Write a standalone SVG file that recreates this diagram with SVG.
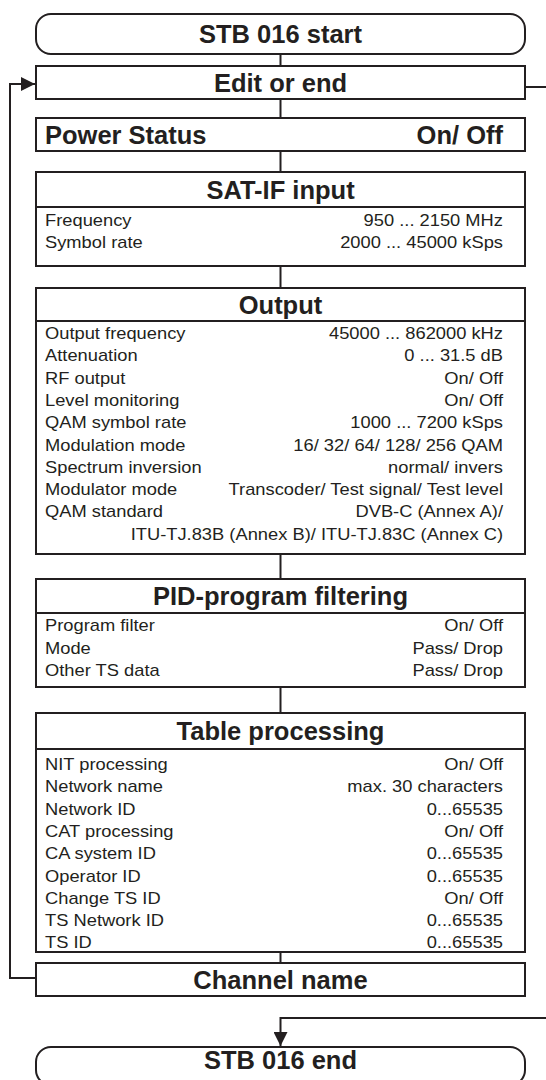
<svg xmlns="http://www.w3.org/2000/svg" width="546" height="1080" viewBox="0 0 546 1080">
<defs>
<style>
.box{fill:#fff;stroke:#231f20;stroke-width:2}
.div{stroke:#231f20;stroke-width:2}
.hd{font-family:"Liberation Sans",Arial,Helvetica,sans-serif;font-weight:bold;font-size:25.5px;fill:#231f20;text-anchor:middle}
.hl{text-anchor:start}
.hr{text-anchor:end}
.t{font-family:"Liberation Sans",Arial,Helvetica,sans-serif;font-size:16px;fill:#231f20}
.r{text-anchor:end}
.c{fill:none;stroke:#231f20;stroke-width:2}
</style>
<marker id="arr" viewBox="0 0 14 14" refX="14" refY="7" markerWidth="14" markerHeight="14" markerUnits="userSpaceOnUse" orient="auto">
<path d="M0,0 L14,7 L0,14 z" fill="#231f20"/>
</marker>
</defs>
<rect width="546" height="1080" fill="#fff"/>

<g id="connectors">
<path class="c" d="M280.5,54 V66"/>
<path class="c" d="M280.5,99 V118"/>
<path class="c" d="M280.5,151 V172"/>
<path class="c" d="M280.5,266 V288"/>
<path class="c" d="M280.5,554 V579"/>
<path class="c" d="M280.5,687 V713"/>
<path class="c" d="M280.5,952 V963"/>
<path class="c" d="M36,978 H10 V84 H35" marker-end="url(#arr)"/>
<path class="c" d="M525,87 H546"/>
<path class="c" d="M546,1018 H280.5 V1046" marker-end="url(#arr)"/>
</g>

<g id="start">
<rect class="box" x="36" y="14" width="489" height="40" rx="15" ry="15"/>
<text class="hd" x="280.5" y="43">STB 016 start</text>
</g>

<g id="edit">
<rect class="box" x="36" y="66" width="489" height="33"/>
<text class="hd" x="280.5" y="92">Edit or end</text>
</g>

<g id="power">
<rect class="box" x="36" y="118" width="489" height="33"/>
<text class="hd hl" x="45" y="144">Power Status</text>
<text class="hd hr" x="503" y="144">On/ Off</text>
</g>

<g id="satif">
<rect class="box" x="36" y="172" width="489" height="94"/>
<line class="div" x1="36" y1="207" x2="525" y2="207"/>
<text class="hd" x="280.5" y="198.5">SAT-IF input</text>
<text class="t" transform="translate(45,226) scale(1.145,1)">Frequency</text>
<text class="t r" transform="translate(503,226) scale(1.145,1)">950 ... 2150 MHz</text>
<text class="t" transform="translate(45,248) scale(1.145,1)">Symbol rate</text>
<text class="t r" transform="translate(503,248) scale(1.145,1)">2000 ... 45000 kSps</text>
</g>

<g id="output">
<rect class="box" x="36" y="288" width="489" height="266"/>
<line class="div" x1="36" y1="321" x2="525" y2="321"/>
<text class="hd" x="280.5" y="313.5">Output</text>
<text class="t" transform="translate(45,339) scale(1.145,1)">Output frequency</text>
<text class="t r" transform="translate(503,339) scale(1.145,1)">45000 ... 862000 kHz</text>
<text class="t" transform="translate(45,361.3) scale(1.145,1)">Attenuation</text>
<text class="t r" transform="translate(503,361.3) scale(1.145,1)">0 ... 31.5 dB</text>
<text class="t" transform="translate(45,383.6) scale(1.145,1)">RF output</text>
<text class="t r" transform="translate(503,383.6) scale(1.145,1)">On/ Off</text>
<text class="t" transform="translate(45,405.9) scale(1.145,1)">Level monitoring</text>
<text class="t r" transform="translate(503,405.9) scale(1.145,1)">On/ Off</text>
<text class="t" transform="translate(45,428.2) scale(1.145,1)">QAM symbol rate</text>
<text class="t r" transform="translate(503,428.2) scale(1.145,1)">1000 ... 7200 kSps</text>
<text class="t" transform="translate(45,450.5) scale(1.145,1)">Modulation mode</text>
<text class="t r" transform="translate(503,450.5) scale(1.145,1)">16/ 32/ 64/ 128/ 256 QAM</text>
<text class="t" transform="translate(45,472.8) scale(1.145,1)">Spectrum inversion</text>
<text class="t r" transform="translate(503,472.8) scale(1.145,1)">normal/ invers</text>
<text class="t" transform="translate(45,495.1) scale(1.145,1)">Modulator mode</text>
<text class="t r" transform="translate(503,495.1) scale(1.145,1)">Transcoder/ Test signal/ Test level</text>
<text class="t" transform="translate(45,517.4) scale(1.145,1)">QAM standard</text>
<text class="t r" transform="translate(503,517.4) scale(1.145,1)">DVB-C (Annex A)/</text>
<text class="t r" transform="translate(503,539.7) scale(1.145,1)">ITU-TJ.83B (Annex B)/ ITU-TJ.83C (Annex C)</text>
</g>

<g id="pid">
<rect class="box" x="36" y="579" width="489" height="108"/>
<line class="div" x1="36" y1="613" x2="525" y2="613"/>
<text class="hd" x="280.5" y="605">PID-program filtering</text>
<text class="t" transform="translate(45,631) scale(1.145,1)">Program filter</text>
<text class="t r" transform="translate(503,631) scale(1.145,1)">On/ Off</text>
<text class="t" transform="translate(45,653.5) scale(1.145,1)">Mode</text>
<text class="t r" transform="translate(503,653.5) scale(1.145,1)">Pass/ Drop</text>
<text class="t" transform="translate(45,676) scale(1.145,1)">Other TS data</text>
<text class="t r" transform="translate(503,676) scale(1.145,1)">Pass/ Drop</text>
</g>

<g id="table">
<rect class="box" x="36" y="713" width="489" height="239"/>
<line class="div" x1="36" y1="749" x2="525" y2="749"/>
<text class="hd" x="280.5" y="740">Table processing</text>
<text class="t" transform="translate(45,770) scale(1.145,1)">NIT processing</text>
<text class="t r" transform="translate(503,770) scale(1.145,1)">On/ Off</text>
<text class="t" transform="translate(45,792.3) scale(1.145,1)">Network name</text>
<text class="t r" transform="translate(503,792.3) scale(1.145,1)">max. 30 characters</text>
<text class="t" transform="translate(45,814.6) scale(1.145,1)">Network ID</text>
<text class="t r" transform="translate(503,814.6) scale(1.145,1)">0...65535</text>
<text class="t" transform="translate(45,836.9) scale(1.145,1)">CAT processing</text>
<text class="t r" transform="translate(503,836.9) scale(1.145,1)">On/ Off</text>
<text class="t" transform="translate(45,859.2) scale(1.145,1)">CA system ID</text>
<text class="t r" transform="translate(503,859.2) scale(1.145,1)">0...65535</text>
<text class="t" transform="translate(45,881.5) scale(1.145,1)">Operator ID</text>
<text class="t r" transform="translate(503,881.5) scale(1.145,1)">0...65535</text>
<text class="t" transform="translate(45,903.8) scale(1.145,1)">Change TS ID</text>
<text class="t r" transform="translate(503,903.8) scale(1.145,1)">On/ Off</text>
<text class="t" transform="translate(45,926.1) scale(1.145,1)">TS Network ID</text>
<text class="t r" transform="translate(503,926.1) scale(1.145,1)">0...65535</text>
<text class="t" transform="translate(45,948.4) scale(1.145,1)">TS ID</text>
<text class="t r" transform="translate(503,948.4) scale(1.145,1)">0...65535</text>
</g>

<g id="channel">
<rect class="box" x="36" y="963" width="489" height="33"/>
<text class="hd" x="280.5" y="988.5">Channel name</text>
</g>

<g id="end">
<rect class="box" x="36" y="1047" width="489" height="38" rx="15" ry="15"/>
<text class="hd" x="280.5" y="1069">STB 016 end</text>
</g>
</svg>
